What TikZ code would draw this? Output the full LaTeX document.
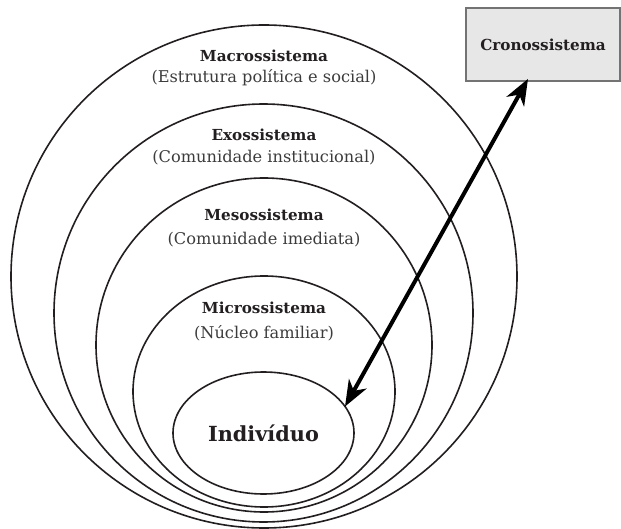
\documentclass[tikz,border=0pt]{standalone}
\usepackage{fontspec}
\setmainfont{DejaVu Serif}
\usetikzlibrary{shapes.geometric,arrows.meta}

\begin{document}
\begin{tikzpicture}[x=0.5pt,y=0.5pt,yscale=-1,xscale=1,
  ring/.style={ellipse,draw={rgb, 255:red, 35; green, 31; blue, 32 },line width=0.8pt,inner sep=0pt,outer sep=0pt},
  title/.style={font=\fontsize{7.6}{9}\selectfont\bfseries,text={rgb, 255:red, 35; green, 31; blue, 32 }},
  sub/.style={font=\fontsize{8.1}{10}\selectfont,text={rgb, 255:red, 60; green, 60; blue, 60 }},
  twoway/.style={line width=2pt,{Stealth[length=13pt,width=10pt,inset=4pt]}-{Stealth[length=13pt,width=10pt,inset=4pt]}}]
%frame of the page
\useasboundingbox (0,0) rectangle (621,529);


%Macrossistema
\node [ring,minimum width=253pt,minimum height=251.5pt] (macro) at (264,276.5) {};
\node [title] (macrot) at (264,56) {Macrossistema};
\node [sub] (macros) at (264,78) {(Estrutura política e social)};

%Exossistema
\node [ring,minimum width=209.5pt,minimum height=209pt] (exo) at (263.5,313) {};
\node [title] (exot) at (264,135) {Exossistema};
\node [sub] (exos) at (264,158) {(Comunidade institucional)};

%Mesossistema
\node [ring,minimum width=168pt,minimum height=167pt] (meso) at (264,345) {};
\node [title] (mesot) at (264,215) {Mesossistema};
\node [sub] (mesos) at (264,240) {(Comunidade imediata)};

%Microssistema
\node [ring,minimum width=131pt,minimum height=115.5pt] (micro) at (264,391.5) {};
\node [title] (microt) at (264,308) {Microssistema};
\node [sub] (micros) at (264,333) {(Núcleo familiar)};

%Individuo
\node [ring,font=\fontsize{10.4}{12}\selectfont\bfseries,text={rgb, 255:red, 35; green, 31; blue, 32 },minimum width=90.5pt,minimum height=61pt] (indiv) at (263.5,433) {Indivíduo};

%Cronossistema box
\node [title,draw={rgb, 255:red, 115; green, 115; blue, 115 },fill={rgb, 255:red, 231; green, 231; blue, 232 },line width=0.9pt,inner sep=0pt,minimum width=77pt,minimum height=36.5pt] (crono) at (543,44.5) {Cronossistema};

%Arrow: Individuo <-> Cronossistema
\draw [twoway] (indiv.18) -- ([xshift=-7.5pt,yshift=-1.5pt]crono.south) ;


\end{tikzpicture}
\end{document}
